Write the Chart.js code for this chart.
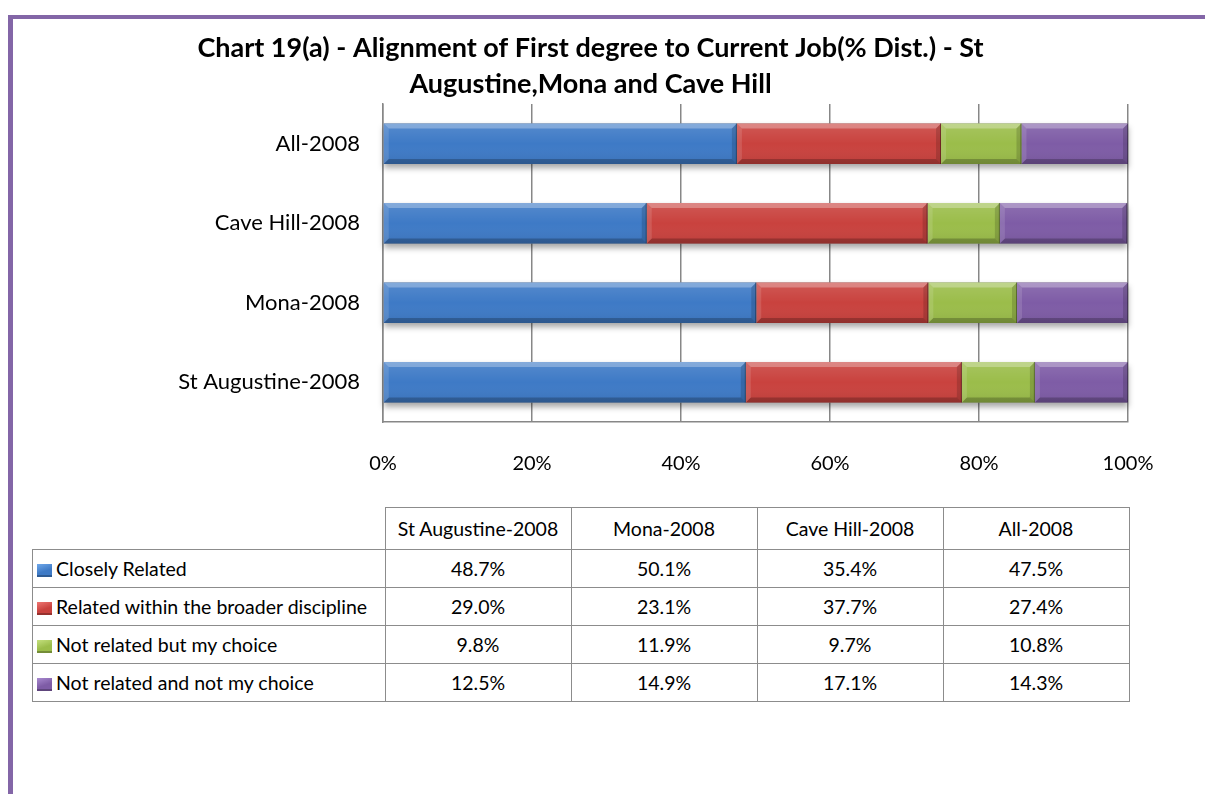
<!DOCTYPE html>
<html>
<head>
<meta charset="utf-8">
<script src="https://cdn.jsdelivr.net/npm/chart.js@4"></script>
<style>
  body { margin: 0; background: #fff; font-family: Lato, "Noto Sans", sans-serif; }
  #page { position: relative; width: 1205px; height: 794px; overflow: hidden; }
  #frame { position: absolute; left: 8px; top: 15px; width: 1300px; height: 900px;
           border-top: 4px solid #8366a7; border-left: 5px solid #8366a7; }
  #c { position: absolute; left: 0; top: 0; }
  #tbl { position: absolute; left: 32px; top: 507px; border-collapse: collapse;
         font-size: 19.5px; color: #000; table-layout: fixed; }
  #tbl td { border: 1.5px solid #8c8c8c; text-align: center; height: 37px; padding: 0; }
  #tbl td.lab { text-align: left; padding-left: 4px; white-space: nowrap; }
  #tbl tr.head td { height: 41px; }
  #tbl td.blank { border: none; border-bottom: 1.5px solid #8c8c8c; }
  .mk { display: inline-block; width: 15px; height: 13px; margin-right: 4px; vertical-align: -1px; }
</style>
</head>
<body>
<div id="page">
  <div id="frame"></div>
  <canvas id="c" width="1205" height="500"></canvas>
  <table id="tbl"></table>
</div>
<script>
// categories in table order (chart shows them bottom to top)
const campuses = ['St Augustine-2008', 'Mona-2008', 'Cave Hill-2008', 'All-2008'];
const seriesNames = ['Closely Related', 'Related within the broader discipline', 'Not related but my choice', 'Not related and not my choice'];
const closelyRelated = [48.7, 50.1, 35.4, 47.5];
const broaderDiscipline = [29.0, 23.1, 37.7, 27.4];
const notRelatedChoice = [9.8, 11.9, 9.7, 10.8];
const notRelatedNotChoice = [12.5, 14.9, 17.1, 14.3];
const xTicks = [0, 20, 40, 60, 80, 100];

const colors = ['#3e7ac6', '#c9423e', '#9bbd4a', '#7e5ca6'];
const lightColors = ['#6fa8ea', '#ee7672', '#c4e07e', '#a98ad0'];
const allValues = [closelyRelated, broaderDiscipline, notRelatedChoice, notRelatedNotChoice];

// table below the chart
const tbl = document.getElementById('tbl');
let html = '<tr class="head"><td class="blank" style="width:352px"></td>';
campuses.forEach(c => html += '<td style="width:185px">' + c + '</td>');
html += '</tr>';
seriesNames.forEach((s, i) => {
  html += '<tr><td class="lab"><span class="mk" style="background:linear-gradient(160deg,' + lightColors[i] + ' 0%,' + colors[i] + ' 55%,' + colors[i] + ' 100%);box-shadow:inset 0 -2px 0 rgba(0,0,0,0.25)"></span>' + s + '</td>';
  allValues[i].forEach(v => html += '<td>' + v.toFixed(1) + '%</td>');
  html += '</tr>';
});
tbl.innerHTML = html;

// soft shadow under each full bar
const shadowPlugin = {
  id: 'barShadow',
  beforeDatasetsDraw(chart) {
    const ctx = chart.ctx;
    const first = chart.getDatasetMeta(0).data;
    const last = chart.getDatasetMeta(chart.data.datasets.length - 1).data;
    ctx.save();
    ctx.shadowColor = 'rgba(0,0,0,0.35)';
    ctx.shadowBlur = 6;
    ctx.shadowOffsetY = 4;
    ctx.fillStyle = '#888';
    first.forEach((el, i) => {
      const l = el.base, r = last[i].x, h = el.height;
      ctx.fillRect(l, el.y - h / 2, r - l, h);
    });
    ctx.restore();
  }
};

// bevel edges like the office chart
const bevelPlugin = {
  id: 'bevel',
  afterDatasetsDraw(chart) {
    const ctx = chart.ctx;
    const d = 5;
    chart.data.datasets.forEach((ds, di) => {
      chart.getDatasetMeta(di).data.forEach(el => {
        const L = el.base, R = el.x, T = el.y - el.height / 2, B = el.y + el.height / 2;
        const poly = (pts, fill) => {
          ctx.beginPath();
          ctx.moveTo(pts[0][0], pts[0][1]);
          pts.slice(1).forEach(p => ctx.lineTo(p[0], p[1]));
          ctx.closePath();
          ctx.fillStyle = fill;
          ctx.fill();
        };
        ctx.save();
        const g = ctx.createLinearGradient(0, T, 0, B);
        g.addColorStop(0, 'rgba(255,255,255,0.12)');
        g.addColorStop(0.5, 'rgba(255,255,255,0)');
        g.addColorStop(1, 'rgba(0,0,0,0.08)');
        ctx.fillStyle = g;
        ctx.fillRect(L, T, R - L, B - T);
        poly([[L, T], [R, T], [R - d, T + d], [L + d, T + d]], 'rgba(255,255,255,0.28)');
        poly([[L, B], [R, B], [R - d, B - d], [L + d, B - d]], 'rgba(0,0,0,0.22)');
        poly([[L, T], [L + d, T + d], [L + d, B - d], [L, B]], 'rgba(255,255,255,0.12)');
        poly([[R, T], [R - d, T + d], [R - d, B - d], [R, B]], 'rgba(0,0,0,0.15)');
        ctx.strokeStyle = 'rgba(0,0,0,0.35)';
        ctx.lineWidth = 1;
        ctx.beginPath();
        ctx.moveTo(R - 0.5, T);
        ctx.lineTo(R - 0.5, B);
        ctx.stroke();
        ctx.restore();
      });
    });
  }
};

const ctx = document.getElementById('c').getContext('2d');
new Chart(ctx, {
  type: 'bar',
  data: {
    labels: campuses,
    datasets: seriesNames.map((name, i) => ({
      label: name,
      data: allValues[i],
      backgroundColor: colors[i],
      borderWidth: 0,
      barPercentage: 0.51,
      categoryPercentage: 1,
      xAxisID: 'x',
      yAxisID: 'y'
    }))
  },
  options: {
    indexAxis: 'y',
    responsive: false,
    animation: false,
    layout: { padding: { left: 13, right: 37, top: 0, bottom: 18 } },
    plugins: {
      legend: { display: false },
      tooltip: { enabled: false },
      title: {
        display: true,
        text: ['Chart 19(a) - Alignment of First degree to Current Job(% Dist.) - St', 'Augustine,Mona and Cave Hill'],
        color: '#000',
        font: { family: 'Lato', size: 27, weight: 'bold', lineHeight: '36px' },
        padding: { top: 30, bottom: 2 }
      }
    },
    scales: {
      x: {
        stacked: true,
        min: 0,
        max: 100,
        afterBuildTicks: s => { s.ticks = xTicks.map(v => ({ value: v })); },
        afterFit: s => { s.height = 60; },
        ticks: {
          callback: v => v + '%',
          color: '#000',
          padding: 30,
          maxRotation: 0,
          font: { family: 'Lato', size: 20 }
        },
        grid: { color: '#878787', lineWidth: 1.5, drawTicks: false },
        border: { color: '#878787', width: 1.5 }
      },
      y: {
        stacked: true,
        reverse: true,
        afterFit: s => { s.width = 370; },
        ticks: { color: '#000', padding: 23, font: { family: 'Lato', size: 22 } },
        grid: { display: false, drawTicks: false },
        border: { color: '#878787', width: 1.5 }
      },
      yRight: {
        type: 'category',
        position: 'right',
        afterFit: s => { s.width = 40; },
        ticks: { display: false },
        grid: { display: false, drawTicks: false },
        border: { display: false }
      }
    }
  },
  plugins: [shadowPlugin, bevelPlugin]
});
</script>
</body>
</html>
